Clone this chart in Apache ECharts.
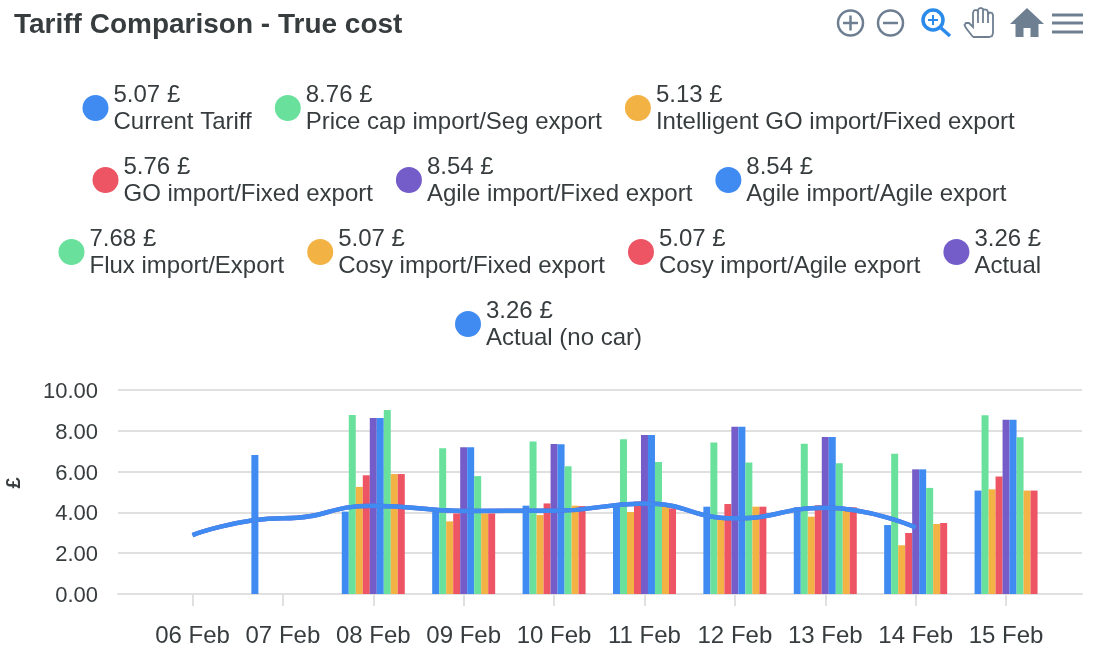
<!DOCTYPE html>
<html><head><meta charset="utf-8">
<style>html,body{margin:0;padding:0;background:#fff}#c{width:1104px;height:668px}</style>
<script src="https://cdn.jsdelivr.net/npm/echarts@6/dist/echarts.min.js"></script>
</head><body><div id="c"></div>
<script>
const categories = ['06 Feb','07 Feb','08 Feb','09 Feb','10 Feb','11 Feb','12 Feb','13 Feb','14 Feb','15 Feb'];
const yTicks = [0,2,4,6,8,10];
const currentTariff = [null,6.81,4.04,4.05,4.33,4.28,4.28,4.25,3.38,5.07];
const priceCap      = [null,null,8.77,7.14,7.48,7.58,7.43,7.37,6.88,8.76];
const intelligentGo = [null,null,5.25,3.56,3.87,4.02,3.66,3.79,2.39,5.13];
const goImport      = [null,null,5.82,3.95,4.44,4.53,4.41,4.35,2.99,5.76];
const agileFixed    = [null,null,8.63,7.19,7.35,7.79,8.20,7.70,6.11,8.54];
const agileAgile    = [null,null,8.63,7.19,7.34,7.79,8.20,7.70,6.11,8.54];
const fluxImport    = [null,null,9.02,5.78,6.26,6.47,6.45,6.41,5.20,7.68];
const cosyFixed     = [null,null,5.88,3.95,4.33,4.28,4.28,4.25,3.43,5.07];
const cosyAgile     = [null,null,5.88,3.95,4.31,4.20,4.28,4.25,3.48,5.07];
const actual        = [2.89,3.71,4.33,4.07,4.08,4.44,3.71,4.23,3.26,null];
const actualNoCar   = [2.89,3.71,4.33,4.07,4.08,4.44,3.71,4.23,3.26,null];
const legendTotals = {
  'Current Tariff':'5.07','Price cap import/Seg export':'8.76','Intelligent GO import/Fixed export':'5.13',
  'GO import/Fixed export':'5.76','Agile import/Fixed export':'8.54','Agile import/Agile export':'8.54',
  'Flux import/Export':'7.68','Cosy import/Fixed export':'5.07','Cosy import/Agile export':'5.07',
  'Actual':'3.26','Actual (no car)':'3.26'
};
const legendRows = [
  ['Current Tariff','Price cap import/Seg export','Intelligent GO import/Fixed export'],
  ['GO import/Fixed export','Agile import/Fixed export','Agile import/Agile export'],
  ['Flux import/Export','Cosy import/Fixed export','Cosy import/Agile export','Actual'],
  ['Actual (no car)']
];
const legendLeft = [82.5,92.5,58.5,455];
const legendTop = [81,153,225,297];

const BLUE='#3F8BF2',GREEN='#69E19D',ORANGE='#F2B244',RED='#ED5565',PURPLE='#745DC8';
const TXT='#373d3f',ICON='#6E7F91',GRID='#e0e0e0';
const FONT='"Liberation Sans", Arial, sans-serif';
const idx = a => a.map((v,i)=> v==null ? null : [i,v]).filter(Boolean);
const bar = (name,data,color)=>({name,type:'bar',data:idx(data),barWidth:7,barGap:'0%',
  itemStyle:{color,opacity:1},emphasis:{disabled:true}});
const line = (name,data,color)=>({name,type:'line',data:idx(data),smooth:0.5,smoothMonotone:'x',showSymbol:false,symbol:'none',
  lineStyle:{color,width:4.5},itemStyle:{color},emphasis:{disabled:true},z:5});

const chart = echarts.init(document.getElementById('c'),null,{renderer:'canvas'});
chart.setOption({
  animation:false,
  backgroundColor:'#fff',
  textStyle:{fontFamily:FONT},
  title:{text:'Tariff Comparison - True cost',left:14,top:11,padding:0,
    textStyle:{fontFamily:FONT,fontSize:28,fontWeight:'bold',color:TXT}},
  legend:legendRows.map((row,i)=>({
    data:row.map(name=>({name,icon:'circle'})),left:legendLeft[i],top:legendTop[i],padding:0,
    orient:'horizontal',itemWidth:26,itemHeight:26,itemGap:23,selectedMode:false,
    formatter:n=>'{a|'+legendTotals[n]+' £}\n{b|'+n+'}',
    textStyle:{fontFamily:FONT,fontSize:24,color:TXT,
      rich:{a:{fontFamily:FONT,fontSize:24,lineHeight:28,color:TXT,padding:[2,0,0,0]},
            b:{fontFamily:FONT,fontSize:24,lineHeight:28,color:TXT,padding:[1,0,0,0]}}}
  })),
  grid:{left:118,right:22,top:390,bottom:74,outerBoundsMode:'none'},
  xAxis:{type:'value',min:-0.824,max:9.84,
    splitLine:{show:false},
    axisLine:{show:true,onZero:false,lineStyle:{color:GRID,width:2}},
    axisTick:{show:true,length:12,lineStyle:{color:GRID,width:2},customValues:categories.map((c,i)=>i)},
    axisLabel:{margin:30,fontFamily:FONT,fontSize:24,color:TXT,hideOverlap:false,
      customValues:categories.map((c,i)=>i),formatter:v=>categories[v]}},
  yAxis:{type:'value',min:0,max:10,interval:yTicks[1]-yTicks[0],
    name:'£',nameLocation:'middle',nameRotate:90,nameGap:94,
    nameTextStyle:{fontFamily:FONT,fontSize:20,fontWeight:'bold',color:TXT,padding:[0,0,0,18]},
    axisLine:{show:false},axisTick:{show:false},
    splitLine:{lineStyle:{color:GRID,width:2}},
    axisLabel:{margin:20,formatter:v=>'{t|'+v.toFixed(2)+'}',
      rich:{t:{fontFamily:FONT,fontSize:22,color:TXT,padding:[4,0,0,0]}}}},
  tooltip:{show:false},
  series:[
    bar('Current Tariff',currentTariff,BLUE),
    bar('Price cap import/Seg export',priceCap,GREEN),
    bar('Intelligent GO import/Fixed export',intelligentGo,ORANGE),
    bar('GO import/Fixed export',goImport,RED),
    bar('Agile import/Fixed export',agileFixed,PURPLE),
    bar('Agile import/Agile export',agileAgile,BLUE),
    bar('Flux import/Export',fluxImport,GREEN),
    bar('Cosy import/Fixed export',cosyFixed,ORANGE),
    bar('Cosy import/Agile export',cosyAgile,RED),
    line('Actual',actual,PURPLE),
    line('Actual (no car)',actualNoCar,BLUE)
  ],
  graphic:[
    {type:'circle',shape:{cx:850.5,cy:23,r:12.5},style:{fill:'none',stroke:ICON,lineWidth:2.5}},
    {type:'line',shape:{x1:843,y1:23,x2:858,y2:23},style:{stroke:ICON,lineWidth:2.5}},
    {type:'line',shape:{x1:850.5,y1:15.5,x2:850.5,y2:30.5},style:{stroke:ICON,lineWidth:2.5}},
    {type:'circle',shape:{cx:890.5,cy:23,r:12.5},style:{fill:'none',stroke:ICON,lineWidth:2.5}},
    {type:'line',shape:{x1:883,y1:23,x2:898,y2:23},style:{stroke:ICON,lineWidth:2.5}},
    {type:'circle',shape:{cx:933,cy:20,r:10},style:{fill:'none',stroke:'#2B8BEB',lineWidth:3.5}},
    {type:'line',shape:{x1:941,y1:28,x2:950,y2:36},style:{stroke:'#2B8BEB',lineWidth:3.5}},
    {type:'line',shape:{x1:928,y1:20,x2:938,y2:20},style:{stroke:'#2B8BEB',lineWidth:2}},
    {type:'line',shape:{x1:933,y1:15,x2:933,y2:25},style:{stroke:'#2B8BEB',lineWidth:2}},
    {type:'polyline',shape:{points:[[973,37],[966,28],[964.5,25],[966,23],[969,23],[973,27],[973,13],[974,10.5],[976,10],[978,11],[978,10],[979,8.5],[981,8],[983,9],[983.5,10],[985,9.5],[987,10],[988,12],[988,14],[990,12.5],[992,13],[993,15],[993,33],[992,36],[989,37],[973,37]]},
      style:{fill:'none',stroke:ICON,lineWidth:1.8}},
    {type:'line',shape:{x1:978,y1:11,x2:978,y2:23},style:{stroke:ICON,lineWidth:1.8}},
    {type:'line',shape:{x1:983,y1:10,x2:983,y2:23},style:{stroke:ICON,lineWidth:1.8}},
    {type:'line',shape:{x1:988,y1:12,x2:988,y2:23},style:{stroke:ICON,lineWidth:1.8}},
    {type:'polygon',shape:{points:[[1027,8],[1044,24],[1038.5,24],[1038.5,37],[1030.5,37],[1030.5,28],[1023.5,28],[1023.5,37],[1015.5,37],[1015.5,24],[1010,24]]},
      style:{fill:ICON}},
    {type:'rect',shape:{x:1052,y:13.5,width:31,height:3},style:{fill:ICON}},
    {type:'rect',shape:{x:1052,y:21.5,width:31,height:3},style:{fill:ICON}},
    {type:'rect',shape:{x:1052,y:30.5,width:31,height:3},style:{fill:ICON}}
  ]
});
</script></body></html>
